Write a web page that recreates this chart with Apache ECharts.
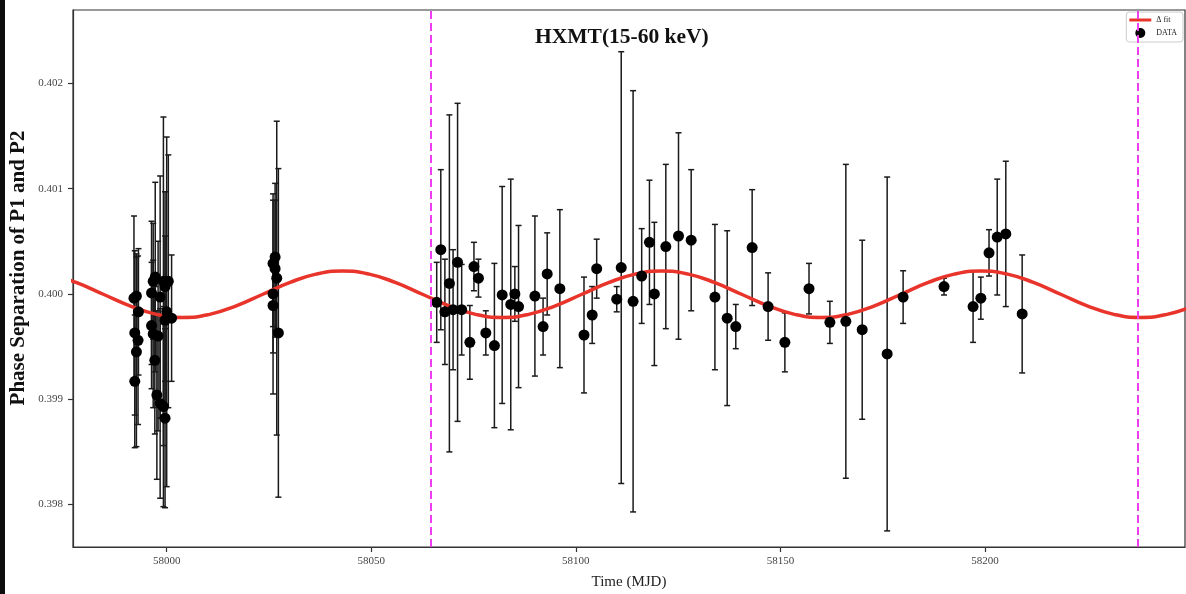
<!DOCTYPE html>
<html>
<head>
<meta charset="utf-8">
<title>HXMT(15-60 keV) phase separation</title>
<script src="https://cdn.jsdelivr.net/npm/echarts@6/dist/echarts.min.js"></script>
<style>
  html, body { margin: 0; padding: 0; background: #ffffff; }
  #chart { width: 1186px; height: 594px; }
</style>
</head>
<body>
<div id="chart"></div>
<script>
// Measured phase separation between P1 and P2 (HXMT, 15-60 keV)
const dataMjd = [
  57992.0, 57992.6, 57993.1, 57992.2, 57993.0, 57992.6, 57992.2,
  57996.3, 57996.7, 57997.2, 57998.4, 57999.2, 58000.0, 58000.4, 57999.6, 58001.2,
  57999.6, 57996.3, 57996.7, 57997.9, 57997.1, 57997.6, 57998.4, 57999.2, 57999.6,
  58026.5, 58026.0, 58026.5, 58026.9, 58026.0, 58026.0, 58027.3,
  58066.0, 58067.0, 58068.0, 58069.1, 58070.0, 58071.1, 58072.1, 58074.1, 58075.1,
  58076.2, 58078.0, 58080.1, 58082.0, 58084.1, 58085.1, 58086.0, 58090.0, 58092.0,
  58093.0, 58096.1, 58102.0, 58104.0, 58105.1, 58110.0, 58111.1, 58114.0, 58116.1,
  58118.0, 58119.2, 58122.0, 58125.1, 58128.2, 58134.0, 58137.0, 58139.1, 58143.1,
  58147.0, 58151.1, 58157.0, 58162.1, 58166.0, 58170.0, 58176.1, 58180.0, 58190.0,
  58197.1, 58199.0, 58201.0, 58203.0, 58205.1, 58209.1
];
const dataPhase = [
  0.39996, 0.39998, 0.39983, 0.39963, 0.39956, 0.39945, 0.39917,
  0.40001, 0.40012, 0.40016, 0.39997, 0.40012, 0.39983, 0.40012, 0.40007, 0.39977,
  0.39975, 0.39970, 0.39962, 0.39960, 0.39937, 0.39904, 0.39896, 0.39893, 0.39882,
  0.40035, 0.40029, 0.40024, 0.40015, 0.40000, 0.39989, 0.39963,
  0.39992, 0.40042, 0.39983, 0.40010, 0.39985, 0.40030, 0.39985, 0.39954, 0.40026,
  0.40015, 0.39963, 0.39951, 0.39999, 0.39990, 0.40000, 0.39988, 0.39998, 0.39969,
  0.40019, 0.40005, 0.39961, 0.39980, 0.40024, 0.39995, 0.40025, 0.39993, 0.40017,
  0.40049, 0.40000, 0.40045, 0.40055, 0.40051, 0.39997, 0.39977, 0.39969, 0.40044,
  0.39988, 0.39954, 0.40005, 0.39973, 0.39974, 0.39966, 0.39943, 0.39997, 0.40007,
  0.39988, 0.39996, 0.40039, 0.40054, 0.40057, 0.39981
];
const dataErr = [
  0.00078, 0.00040, 0.00060, 0.00078, 0.00080, 0.00090, 0.00063,
  0.00068, 0.00055, 0.00090, 0.00115, 0.00156, 0.00166, 0.00120, 0.00090, 0.00060,
  0.00080, 0.00060, 0.00070, 0.00090, 0.00070, 0.00080, 0.00090, 0.00095, 0.00085,
  0.00070, 0.00060, 0.00065, 0.00149, 0.00095, 0.00045, 0.00156,
  0.00038, 0.00076, 0.00050, 0.00160, 0.00057, 0.00151, 0.00043, 0.00035, 0.00023,
  0.00018, 0.00021, 0.00078, 0.00103, 0.00119, 0.00026, 0.00077, 0.00076, 0.00027,
  0.00039, 0.00075, 0.00055, 0.00027, 0.00028, 0.00012, 0.00205, 0.00200, 0.00045,
  0.00059, 0.00068, 0.00078, 0.00098, 0.00067, 0.00069, 0.00083, 0.00021, 0.00055,
  0.00032, 0.00028, 0.00024, 0.00020, 0.00149, 0.00085, 0.00168, 0.00025, 0.00008,
  0.00034, 0.00020, 0.00022, 0.00055, 0.00069, 0.00056
];

// Sinusoidal fit (Δ fit), sampled along the time axis
const fitMjd = [
  57971.5, 57978.0, 57984.5, 57991.0, 57997.5, 58004.0, 58010.5, 58017.0, 58023.5, 58030.0, 58036.5, 58043.0,
  58049.5, 58056.0, 58062.5, 58069.0, 58075.5, 58082.0, 58088.5, 58095.0, 58101.5, 58108.0, 58114.5, 58121.0,
  58127.5, 58134.0, 58140.5, 58147.0, 58153.5, 58160.0, 58166.5, 58173.0, 58179.5, 58186.0, 58192.5, 58199.0,
  58205.5, 58212.0, 58218.5, 58225.0, 58231.5, 58238.0, 58244.5, 58251.0
];
const fitPhase = [
  0.400188, 0.400107, 0.399997, 0.399887, 0.399806, 0.399777, 0.399806, 0.399887, 0.399997, 0.400107, 0.400188, 0.400217,
  0.400188, 0.400107, 0.399997, 0.399887, 0.399806, 0.399777, 0.399806, 0.399887, 0.399997, 0.400107, 0.400188, 0.400217,
  0.400188, 0.400107, 0.399997, 0.399887, 0.399806, 0.399777, 0.399806, 0.399887, 0.399997, 0.400107, 0.400188, 0.400217,
  0.400188, 0.400107, 0.399997, 0.399887, 0.399806, 0.399777, 0.399806, 0.399887
];

// Epoch markers (dashed vertical lines)
const markerMjd = [58064.6, 58237.4];

// Axis ranges and tick labels
const xRange = [57977.1, 58248.9];
const yRange = [0.397597, 0.402696];
const xTicks = [58000, 58050, 58100, 58150, 58200];
const yTicks = [0.398, 0.399, 0.400, 0.401, 0.402];

const SERIF = '"Liberation Serif", "DejaVu Serif", serif';

const points = dataMjd.map((m, i) => [m, dataPhase[i]]);
const bars = dataMjd.map((m, i) => [m, dataPhase[i] - dataErr[i], dataPhase[i] + dataErr[i]]);
const fitLine = fitMjd.map((m, i) => [m, fitPhase[i]]);

const chart = echarts.init(document.getElementById('chart'), null, { renderer: 'canvas' });

chart.setOption({
  backgroundColor: '#ffffff',
  animation: false,
  title: {
    text: 'HXMT(15-60 keV)',
    left: 530,
    top: 21,
    textStyle: { fontFamily: SERIF, fontWeight: 'bold', fontSize: 21.5, color: '#111' }
  },
  legend: {
    data: [
      { name: 'Δ fit', icon: 'path://M0,0 L22,0 L22,3 L0,3 Z' },
      { name: 'DATA', icon: 'circle' }
    ],
    orient: 'vertical',
    right: 3,
    top: 12,
    itemWidth: 22,
    itemHeight: 10,
    itemGap: 4,
    padding: [4, 6, 4, 3],
    borderColor: '#cccccc',
    borderWidth: 1,
    borderRadius: 3,
    backgroundColor: 'rgba(255,255,255,0.8)',
    textStyle: { fontFamily: SERIF, fontSize: 8, color: '#222' }
  },
  graphic: [
    {
      type: 'rect',
      left: 0, top: 0,
      shape: { width: 5, height: 594 },
      style: { fill: '#0d0d0d' },
      z: 100
    },
    {
      type: 'text',
      x: 19,
      y: 268,
      rotation: Math.PI / 2,
      style: {
        text: 'Phase Separation of P1 and P2',
        fontFamily: SERIF,
        fontWeight: 'bold',
        fontSize: 21,
        fill: '#111',
        align: 'center',
        verticalAlign: 'middle'
      }
    }
  ],
  grid: {
    left: 73, right: 1, top: 10, bottom: 47,
    outerBoundsMode: 'none',
    containLabel: false,
    show: true,
    borderColor: '#333',
    borderWidth: 1.2,
    backgroundColor: '#ffffff'
  },
  xAxis: {
    type: 'value',
    min: xRange[0],
    max: xRange[1],
    name: 'Time (MJD)',
    nameLocation: 'middle',
    nameGap: 28,
    nameTextStyle: { fontFamily: SERIF, fontSize: 15, color: '#222' },
    axisLine: { show: true, lineStyle: { color: '#333', width: 1.2 } },
    axisTick: { show: true, length: 5, customValues: xTicks, lineStyle: { color: '#333', width: 1.2 } },
    axisLabel: {
      customValues: xTicks,
      fontFamily: SERIF, fontSize: 11, color: '#444', margin: 9,
      formatter: v => String(Math.round(v))
    },
    splitLine: { show: false }
  },
  yAxis: {
    type: 'value',
    min: yRange[0],
    max: yRange[1],
    axisLine: { show: true, lineStyle: { color: '#333', width: 1.2 } },
    axisTick: { show: true, length: 5, customValues: yTicks, lineStyle: { color: '#333', width: 1.2 } },
    axisLabel: {
      customValues: yTicks,
      fontFamily: SERIF, fontSize: 11, color: '#444', margin: 10,
      formatter: v => v.toFixed(3)
    },
    splitLine: { show: false }
  },
  series: [
    {
      name: 'errors',
      type: 'custom',
      clip: true,
      z: 2,
      data: bars,
      encode: { x: 0, y: [1, 2] },
      renderItem: function (params, api) {
        const x = api.value(0);
        const lo = api.coord([x, api.value(1)]);
        const hi = api.coord([x, api.value(2)]);
        const cap = 3;
        const style = { stroke: '#1a1a1a', lineWidth: 1.5 };
        return {
          type: 'group',
          children: [
            { type: 'line', shape: { x1: lo[0], y1: lo[1], x2: hi[0], y2: hi[1] }, style: style },
            { type: 'line', shape: { x1: lo[0] - cap, y1: lo[1], x2: lo[0] + cap, y2: lo[1] }, style: style },
            { type: 'line', shape: { x1: hi[0] - cap, y1: hi[1], x2: hi[0] + cap, y2: hi[1] }, style: style }
          ]
        };
      }
    },
    {
      name: 'Δ fit',
      type: 'line',
      data: fitLine,
      smooth: 0.5,
      symbol: 'none',
      clip: true,
      z: 3,
      lineStyle: { color: '#e8342a', width: 3.5 },
      itemStyle: { color: '#e8342a' },
      markLine: {
        silent: true,
        symbol: ['none', 'none'],
        label: { show: false },
        lineStyle: { type: [8, 4], color: '#ee3ef0', width: 2 },
        data: markerMjd.map(m => ({ xAxis: m }))
      }
    },
    {
      name: 'DATA',
      type: 'scatter',
      data: points,
      symbol: 'circle',
      symbolSize: 11,
      z: 4,
      itemStyle: { color: '#000000', opacity: 1 }
    }
  ]
});
</script>
</body>
</html>
